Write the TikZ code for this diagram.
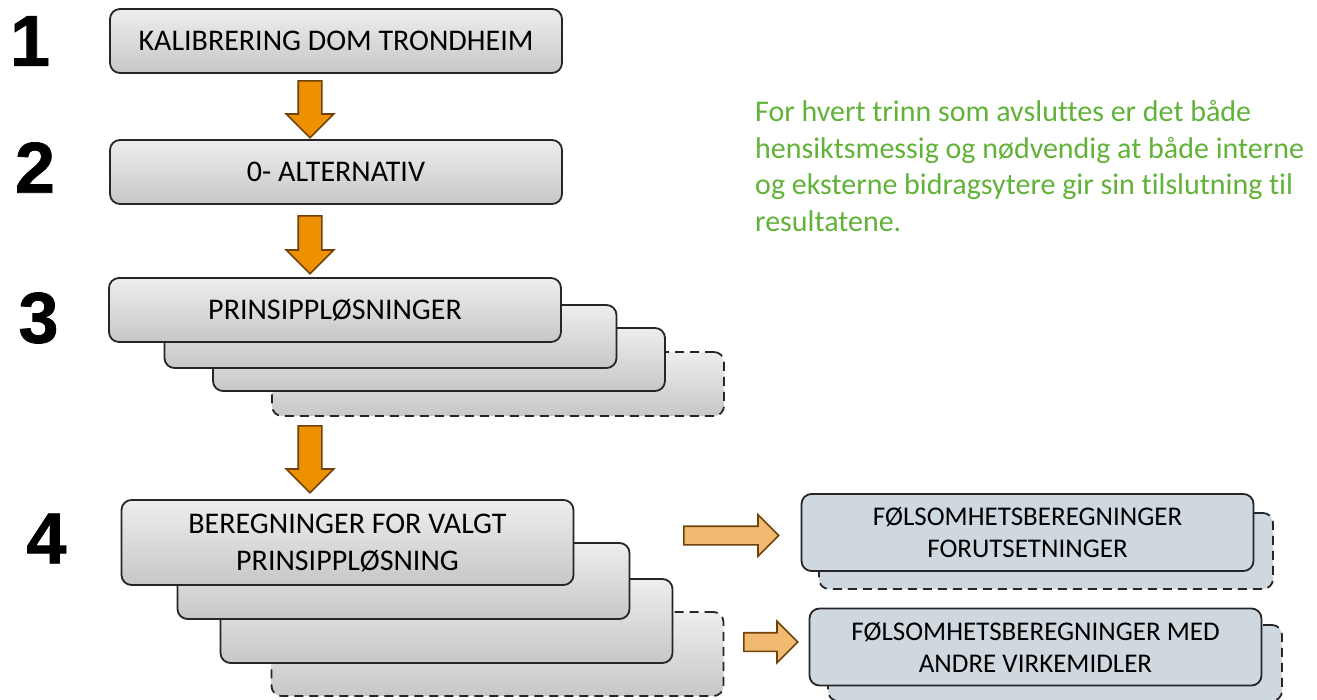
\documentclass[tikz,border=0pt]{standalone}
\usepackage{fontspec}
\usepackage{xcolor}
\setmainfont{Carlito}[Ligatures=NoCommon]
\newfontfamily\numfamily{Liberation Sans Bold}[FakeBold=1]
\usetikzlibrary{shapes, arrows, calc, positioning}
\definecolor{plangreen}{rgb}{0.380, 0.698, 0.220}
\definecolor{planorange}{rgb}{0.929, 0.569, 0}
\definecolor{planbrown}{rgb}{0.431, 0.259, 0.039}
\definecolor{planpeach}{rgb}{0.949, 0.729, 0.439}
\definecolor{planslate}{rgb}{0.812, 0.843, 0.875}
\definecolor{planlight}{rgb}{0.929, 0.933, 0.937}
\definecolor{planmid}{rgb}{0.776, 0.780, 0.788}
\definecolor{planink}{rgb}{0.149, 0.149, 0.157}
\newcommand{\stepfont}{\fontsize{30}{37}\selectfont}
\newcommand{\sidefont}{\fontsize{27}{32}\selectfont}
\newcommand{\notefont}{\fontsize{30}{36.6}\selectfont}
\newcommand{\numfont}{\fontsize{72}{72}\selectfont\numfamily}
\tikzset{
    cardbase/.style={draw=planink, line width=1.8pt, rounded corners=10pt, minimum width=452pt, text=black, align=center, inner sep=0pt},
    stepbox/.style={cardbase, top color=planlight, bottom color=planmid, font=\stepfont},
    stepghost/.style={stepbox, dash pattern=on 9pt off 6pt},
    sidebox/.style={cardbase, fill=planslate, font=\sidefont},
    sideghost/.style={sidebox, dash pattern=on 9pt off 6pt},
    numlabel/.style={font=\numfont, inner sep=0pt},
    downarrow/.style={single arrow, draw=planbrown, fill=planorange, line width=1.6pt, inner sep=0pt, inner ysep=11pt, single arrow head extend=12pt, rotate=-90, anchor=tail},
    sidearrow/.style={single arrow, draw=planbrown, fill=planpeach, line width=1.6pt, inner sep=0pt, inner ysep=8.5pt, single arrow head extend=11.5pt, anchor=tail}
}

\begin{document}
\begin{tikzpicture}[x=1pt, y=-1pt]
        \useasboundingbox (0,0) rectangle (1317,699);

        \node [numlabel] (N1) at (30, 41) {1};
        \node [numlabel] (N2) at (35, 167.5) {2};
        \node [numlabel] (N3) at (38.5, 318) {3};
        \node [numlabel] (N4) at (46.5, 538.5) {4};

        \node [stepbox, minimum height=64pt] (Kal) at (336, 41) {KALIBRERING DOM TRONDHEIM};
        \node [stepbox, minimum height=64pt] (Null) at (336, 172) {0- ALTERNATIV};

        % stack of principle solutions, back to front
        \node [stepghost, minimum height=64pt] (Pd) at (498, 384) {};
        \node [stepbox, minimum height=63pt] (Pc) at (439, 359.5) {};
        \node [stepbox, minimum height=63pt] (Pb) at (390.5, 336.5) {};
        \node [stepbox, minimum height=64pt] (Pa) at (335, 310) {PRINSIPPLØSNINGER};

        % stack of calculations, back to front
        \node [stepghost, minimum height=84pt] (Bd) at (497.5, 654) {};
        \node [stepbox, minimum height=84pt] (Bc) at (446.5, 621) {};
        \node [stepbox, minimum height=76pt] (Bb) at (403.5, 581) {};
        \node [stepbox, minimum height=85pt] (Ba) at (347.5, 542.5) {BEREGNINGER FOR VALGT\\PRINSIPPLØSNING};

        \node [sideghost, minimum width=454pt, minimum height=76pt] (Fd) at (1046, 551) {};
        \node [sidebox, minimum height=77pt] (Fa) at (1027.5, 532.5) {FØLSOMHETSBEREGNINGER\\FORUTSETNINGER};
        \node [sideghost, minimum width=454pt, minimum height=76pt] (Gd) at (1055, 663) {};
        \node [sidebox, minimum height=77pt] (Ga) at (1035.5, 647) {FØLSOMHETSBEREGNINGER MED\\ANDRE VIRKEMIDLER};

        \node [downarrow, minimum height=57pt] (A1) at (310, 80) {};
        \node [downarrow, minimum height=58pt] (A2) at (310, 215) {};
        \node [downarrow, minimum height=67pt] (A3) at (310, 425) {};
        \node [sidearrow, minimum height=95pt] (A4) at (683, 535.5) {};
        \node [sidearrow, minimum height=54pt] (A5) at (743, 642) {};

        \node [anchor=north west, inner sep=0pt, align=left, text=plangreen, font=\notefont] (Note) at (755, 100)
            {For hvert trinn som avsluttes er det både\\hensiktsmessig og nødvendig at både interne\\og eksterne bidragsytere gir sin tilslutning til\\resultatene.};
\end{tikzpicture}
\end{document}
